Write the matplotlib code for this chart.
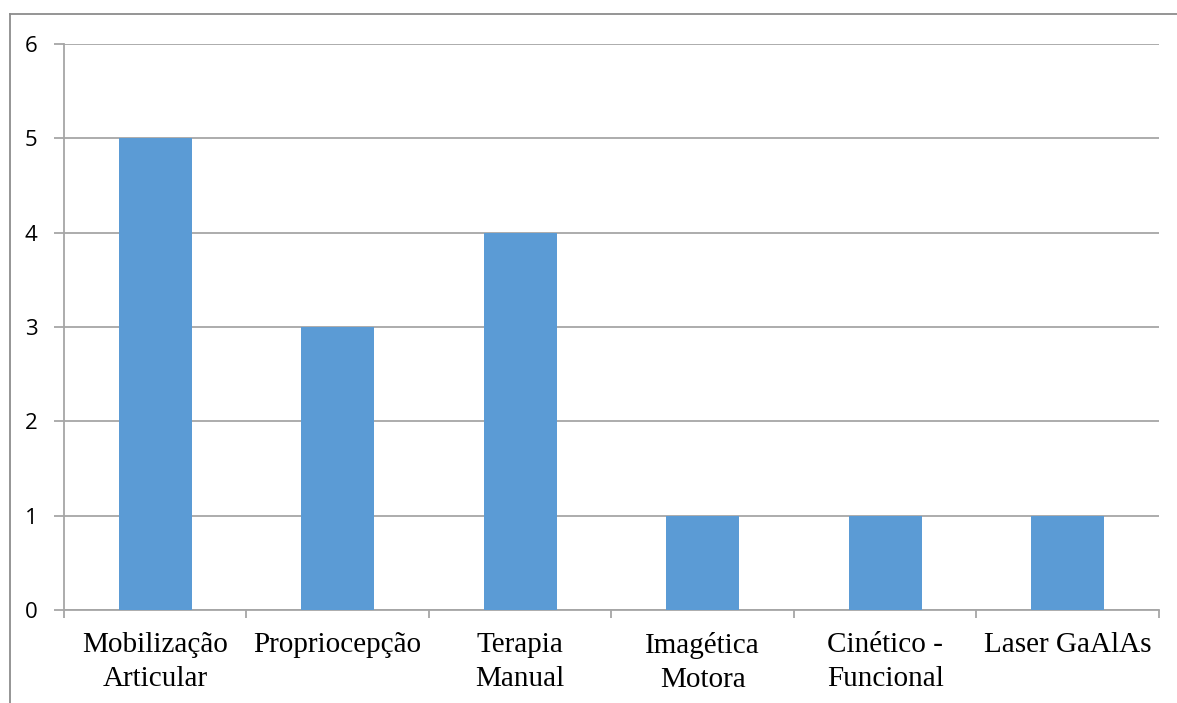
import matplotlib
matplotlib.use("Agg")
import matplotlib.pyplot as plt
from matplotlib.lines import Line2D

categories = ["Mobilização\nArticular", "Propriocepção", "Terapia\nManual",
              "Imagética\nMotora", "Cinético -\nFuncional", "Laser GaAlAs"]
values = [5, 3, 4, 1, 1, 1]
y_ticks = [0, 1, 2, 3, 4, 5, 6]

BAR = "#5B9BD5"
GRID = "#A6A6A6"

W, H = 1177, 703
fig = plt.figure(figsize=(W / 100, H / 100), dpi=100)
ax = fig.add_axes([64 / W, 1 - 610 / H, (1159 - 64) / W, (610 - 44) / H])

x = list(range(len(categories)))
ax.bar(x, values, width=0.4, color=BAR, zorder=3)

ax.set_xlim(-0.5, len(categories) - 0.5)
ax.set_ylim(0, 6)
ax.set_yticks(y_ticks)
ax.set_yticklabels([str(v) for v in y_ticks], fontsize=16, family="Open Sans")
ax.yaxis.grid(True, color=GRID, linewidth=1.3, zorder=0)
ax.set_axisbelow(True)

# category labels centred, tick marks on the category boundaries
ax.set_xticks(x)
ax.set_xticklabels(categories, fontsize=21, family="Liberation Serif",
                   linespacing=1.38)
ax.tick_params(axis="x", which="major", length=0, pad=16)
ax.set_xticks([i - 0.5 for i in range(len(categories) + 1)], minor=True)
ax.tick_params(axis="x", which="minor", length=6, width=1.3, color=GRID)
ax.tick_params(axis="y", length=7, width=1.3, color=GRID, pad=12)

for side in ("top", "right"):
    ax.spines[side].set_visible(False)
for side in ("left", "bottom"):
    ax.spines[side].set_color(GRID)
    ax.spines[side].set_linewidth(1.3)

# outer chart frame
fig.add_artist(Line2D([9.5 / W, 9.5 / W], [0, 1 - 14 / H],
                      transform=fig.transFigure, color="#8C8C8C", linewidth=1.3))
fig.add_artist(Line2D([9.5 / W, 1], [1 - 14 / H, 1 - 14 / H],
                      transform=fig.transFigure, color="#8C8C8C", linewidth=1.3))

fig.savefig("out.png", dpi=100)
